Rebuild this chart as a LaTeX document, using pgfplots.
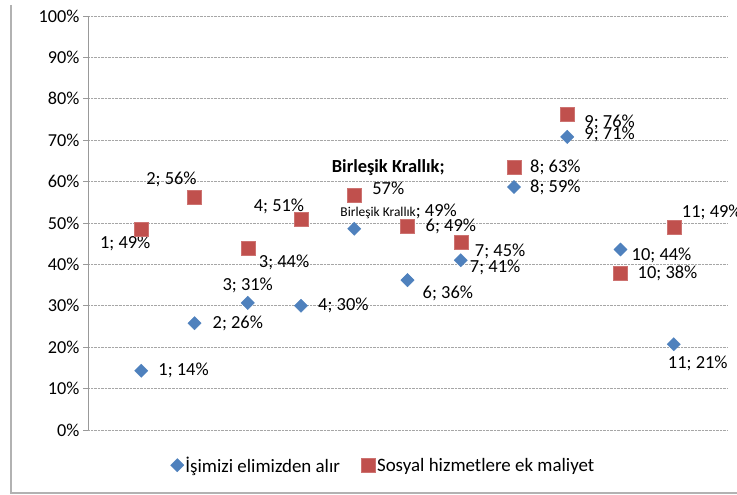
\documentclass[border=0pt]{standalone}
\usepackage{fontspec}
\setmainfont{Carlito}
\usepackage{pgfplots}
\pgfplotsset{compat=1.18}
\definecolor{xblue}{HTML}{4F81BD}
\definecolor{xred}{HTML}{C0504D}
\begin{document}
\begin{tikzpicture}[x=1bp,y=1bp]
\useasboundingbox (0,0) rectangle (737,495);
\draw[gray!60, line width=1.2bp] (11,490) -- (11,2) -- (737,2);
\begin{axis}[
  at={(88bp,65bp)}, anchor=south west, scale only axis,
  width=639bp, height=414bp,
  xmin=0, xmax=12, ymin=0, ymax=100,
  axis x line=none, axis y line*=left,
  y axis line style={gray!80, line width=0.8bp},
  ytick={0,10,...,100},
  yticklabel={\pgfmathprintnumber{\tick}\%},
  /pgf/number format/assume math mode=true,
  tick label style={font=\fontsize{18.3}{20}\selectfont},
  tick align=outside, major tick length=5bp,
  ytick style={gray!80, line width=0.8bp},
  ymajorgrids, major grid style={densely dotted, gray!70, line width=0.8bp},
  clip=false,
  legend columns=2,
  legend style={at={(0.462,-0.085)}, anchor=center, draw=none,
    font=\fontsize{19}{21}\selectfont, column sep=0bp,
    nodes={inner xsep=1.5bp},
    /tikz/every even column/.append style={column sep=20bp}},
  legend image code/.code={\draw[#1] plot coordinates {(0bp,0bp)};},
]
\addplot[only marks, mark=square*, mark size=4.7bp, mark options={rotate=45, fill=xblue, draw=xblue}]
 coordinates {(1,14.3)(2,25.8)(3,30.7)(4,30)(5,48.6)(6,36.2)(7,41)(8,58.7)(9,70.8)(10,43.6)(11,20.7)};
\addlegendentry{İşimizi elimizden alır}
\addplot[only marks, mark=square*, mark size=7bp, mark options={fill=xred, draw=xred!80!white}]
 coordinates {(1,48.5)(2,56.2)(3,43.8)(4,51)(5,56.7)(6,49.2)(7,45.4)(8,63.4)(9,76.3)(10,37.8)(11,49.1)};
\addlegendentry{Sosyal hizmetlere ek maliyet}
\tikzset{lb/.style={font=\fontsize{18.5}{20}\selectfont, inner sep=0pt}}
% blue labels
\node[lb, anchor=west, xshift=17bp] at (axis cs:1,14.3) {1; 14\%};
\node[lb, anchor=west, xshift=18bp] at (axis cs:2,25.8) {2; 26\%};
\node[lb, yshift=18bp] at (axis cs:3,30.7) {3; 31\%};
\node[lb, anchor=west, xshift=17bp] at (axis cs:4,30) {4; 30\%};
\node[lb, anchor=west, xshift=-14bp, yshift=17bp] at (axis cs:5,48.6) {{\fontsize{13.5}{15}\selectfont Birleşik Krallık}; 49\%};
\node[lb, anchor=west, xshift=15bp, yshift=-13bp] at (axis cs:6,36.2) {6; 36\%};
\node[lb, anchor=west, xshift=9bp, yshift=-7bp] at (axis cs:7,41) {7; 41\%};
\node[lb, anchor=west, xshift=16bp] at (axis cs:8,58.7) {8; 59\%};
\node[lb, anchor=west, xshift=17bp, yshift=2bp] at (axis cs:9,70.8) {9; 71\%};
\node[lb, anchor=west, xshift=11bp, yshift=-6bp] at (axis cs:10,43.6) {10; 44\%};
\node[lb, anchor=west, xshift=-6bp, yshift=-19bp] at (axis cs:11,20.7) {11; 21\%};
% red labels
\node[lb, xshift=-16bp, yshift=-14bp] at (axis cs:1,48.5) {1; 49\%};
\node[lb, xshift=-23bp, yshift=18bp] at (axis cs:2,56.2) {2; 56\%};
\node[lb, anchor=west, xshift=11bp, yshift=-14bp] at (axis cs:3,43.8) {3; 44\%};
\node[lb, xshift=-22bp, yshift=12bp] at (axis cs:4,51) {4; 51\%};
\node[lb, align=center, xshift=34bp, yshift=18bp] at (axis cs:5,56.7) {\bfseries Birleşik Krallık;\\[2bp] 57\%};
\node[lb, anchor=west, xshift=18bp] at (axis cs:6,49.2) {6; 49\%};
\node[lb, anchor=west, xshift=14bp, yshift=-9bp] at (axis cs:7,45.4) {7; 45\%};
\node[lb, anchor=west, xshift=16bp] at (axis cs:8,63.4) {8; 63\%};
\node[lb, anchor=west, xshift=17bp, yshift=-8bp] at (axis cs:9,76.3) {9; 76\%};
\node[lb, anchor=west, xshift=17bp] at (axis cs:10,37.8) {10; 38\%};
\node[lb, anchor=west, xshift=8bp, yshift=14bp] at (axis cs:11,49.1) {11; 49\%};
\end{axis}
\end{tikzpicture}
\end{document}
